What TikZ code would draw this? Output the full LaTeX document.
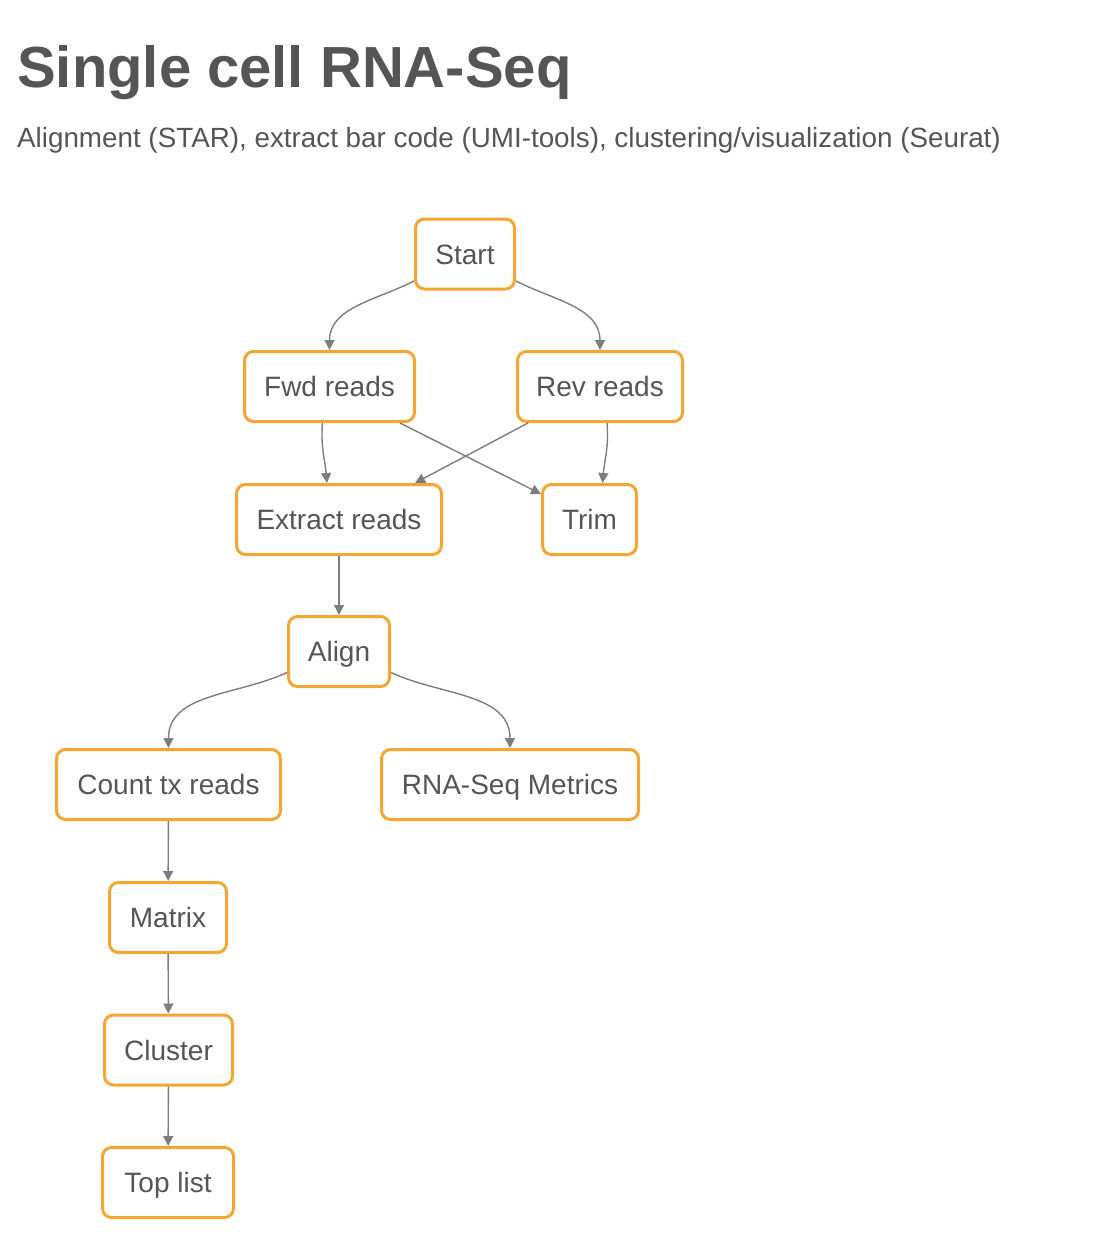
\documentclass[tikz,border=0pt]{standalone}
\usepackage{fontspec}
\setmainfont{Liberation Sans}
\usetikzlibrary{arrows.meta}
\definecolor{boxorange}{RGB}{245,166,50}
\definecolor{txtgray}{RGB}{85,85,85}
\definecolor{arrgray}{RGB}{125,125,125}
\begin{document}
\begin{tikzpicture}[x=1pt,y=-1pt,
  box/.style={draw=boxorange, line width=3pt, rounded corners=9pt, minimum height=70pt,
    inner sep=0pt, text=txtgray, font=\fontsize{28}{33}\selectfont, fill=white,
    text height=20pt, text depth=0pt},
  conn/.style={draw=arrgray, line width=1.4pt, -{Triangle[length=10pt,width=10pt,fill=arrgray]}}
]
\useasboundingbox (0,0) rectangle (1114,1248);
\node[anchor=base west, text=txtgray, font=\fontsize{58}{66}\selectfont\bfseries, inner sep=0pt] (title) at (17,87) {Single cell RNA-Seq};
\node[anchor=base west, text=txtgray, font=\fontsize{27.8}{32}\selectfont, inner sep=0pt] (subtitle) at (17,147) {Alignment (STAR), extract bar code (UMI-tools), clustering/visualization (Seurat)};

\node[box, minimum width=99pt]  (start)   at (465,254)   {Start};
\node[box, minimum width=170pt] (fwd)     at (329.5,386.5) {Fwd reads};
\node[box, minimum width=165pt] (rev)     at (600,386.5) {Rev reads};
\node[box, minimum width=205pt] (extract) at (339,519.5) {Extract reads};
\node[box, minimum width=94pt]  (trim)    at (589.5,519.5) {Trim};
\node[box, minimum width=101pt] (align)   at (339,651.5) {Align};
\node[box, minimum width=224pt] (count)   at (168.5,784.5) {Count tx reads};
\node[box, minimum width=257pt] (metrics) at (510,784.5) {RNA-Seq Metrics};
\node[box, minimum width=117pt] (matrix)  at (168,917.5) {Matrix};
\node[box, minimum width=128pt] (cluster) at (168.5,1050) {Cluster};
\node[box, minimum width=131pt] (toplist) at (168,1182.5) {Top list};

\draw[conn] ([yshift=-27pt]start.west) to[out=207,in=90] (fwd.north);
\draw[conn] ([yshift=-27pt]start.east) to[out=-27,in=90] (rev.north);
\draw[conn] ([xshift=-7pt]fwd.south) to[out=-95,in=95] ([xshift=-12pt]extract.north);
\draw[conn] ([xshift=-16pt]fwd.south east) -- ([yshift=-11pt]trim.north west);
\draw[conn] ([xshift=12pt]rev.south west) -- ([xshift=-28pt]extract.north east);
\draw[conn] ([xshift=7pt]rev.south) to[out=-85,in=85] ([xshift=13pt]trim.north);
\draw[conn] (extract) -- (align);
\draw[conn] ([yshift=-21pt]align.west) to[out=205,in=90] (count.north);
\draw[conn] ([yshift=-21pt]align.east) to[out=-25,in=90] (metrics.north);
\draw[conn] (count) -- (matrix);
\draw[conn] (matrix) -- (cluster);
\draw[conn] (cluster) -- (toplist);
\end{tikzpicture}
\end{document}
